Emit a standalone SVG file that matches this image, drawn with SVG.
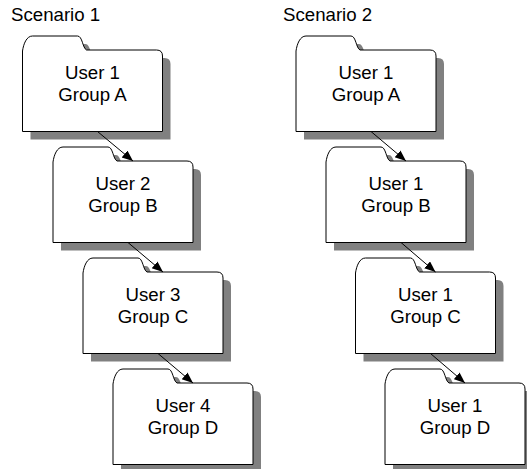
<svg xmlns="http://www.w3.org/2000/svg" xmlns:xlink="http://www.w3.org/1999/xlink" width="527" height="469" viewBox="0 0 527 469">
<style>
text{font-family:"Liberation Sans",Arial,sans-serif;font-size:18.67px;fill:#000}
.lbl{text-anchor:middle}
.folder{fill:#fff;stroke:#000;stroke-width:1}
.shadow{fill:#808080;stroke:none}
.conn{stroke:#000;stroke-width:1;fill:none;marker-end:url(#arrow)}
</style>
<defs>
<path id="fp" d="M0,1 C1,-6 4,-14 10,-14 L55,-14 C60,-14 60,-2 64,0 L134,0 Q140,0 140,6 L140,81.5 L0,81.5 Z"/>
<marker id="arrow" markerUnits="userSpaceOnUse" markerWidth="12" markerHeight="10" refX="11" refY="4.5" orient="auto" viewBox="0 0 12 10">
<path d="M0,0 L11,4.5 L0,9 Z" fill="#000"/>
</marker>
</defs>
<text x="11" y="20.5">Scenario 1</text>
<text x="283" y="20.5">Scenario 2</text>
<g id="s1a" transform="translate(22.5,50)"><use href="#fp" class="shadow" transform="translate(8,8)"/><use href="#fp" class="folder"/><text class="lbl" x="70" y="29">User 1</text><text class="lbl" x="70" y="50.7">Group A</text></g>
<g id="s1b" transform="translate(53,161)"><use href="#fp" class="shadow" transform="translate(8,8)"/><use href="#fp" class="folder"/><text class="lbl" x="70" y="29">User 2</text><text class="lbl" x="70" y="50.7">Group B</text></g>
<g id="s1c" transform="translate(83,272)"><use href="#fp" class="shadow" transform="translate(8,8)"/><use href="#fp" class="folder"/><text class="lbl" x="70" y="29">User 3</text><text class="lbl" x="70" y="50.7">Group C</text></g>
<g id="s1d" transform="translate(113,383)"><use href="#fp" class="shadow" transform="translate(8,8)"/><use href="#fp" class="folder"/><text class="lbl" x="70" y="29">User 4</text><text class="lbl" x="70" y="50.7">Group D</text></g>
<g id="s2a" transform="translate(296,50)"><use href="#fp" class="shadow" transform="translate(8,8)"/><use href="#fp" class="folder"/><text class="lbl" x="70" y="29">User 1</text><text class="lbl" x="70" y="50.7">Group A</text></g>
<g id="s2b" transform="translate(326,161)"><use href="#fp" class="shadow" transform="translate(8,8)"/><use href="#fp" class="folder"/><text class="lbl" x="70" y="29">User 1</text><text class="lbl" x="70" y="50.7">Group B</text></g>
<g id="s2c" transform="translate(355.5,272)"><use href="#fp" class="shadow" transform="translate(8,8)"/><use href="#fp" class="folder"/><text class="lbl" x="70" y="29">User 1</text><text class="lbl" x="70" y="50.7">Group C</text></g>
<g id="s2d" transform="translate(385,383)"><use href="#fp" class="shadow" transform="translate(8,8)"/><use href="#fp" class="folder"/><text class="lbl" x="70" y="29">User 1</text><text class="lbl" x="70" y="50.7">Group D</text></g>
<g id="connectors">
<line class="conn" x1="97.5" y1="131.5" x2="133" y2="161"/>
<line class="conn" x1="128" y1="242.5" x2="163" y2="272"/>
<line class="conn" x1="158" y1="353.5" x2="193" y2="383"/>
<line class="conn" x1="371" y1="131.5" x2="406" y2="161"/>
<line class="conn" x1="401" y1="242.5" x2="435.5" y2="272"/>
<line class="conn" x1="430.5" y1="353.5" x2="465" y2="383"/>
</g>
</svg>
